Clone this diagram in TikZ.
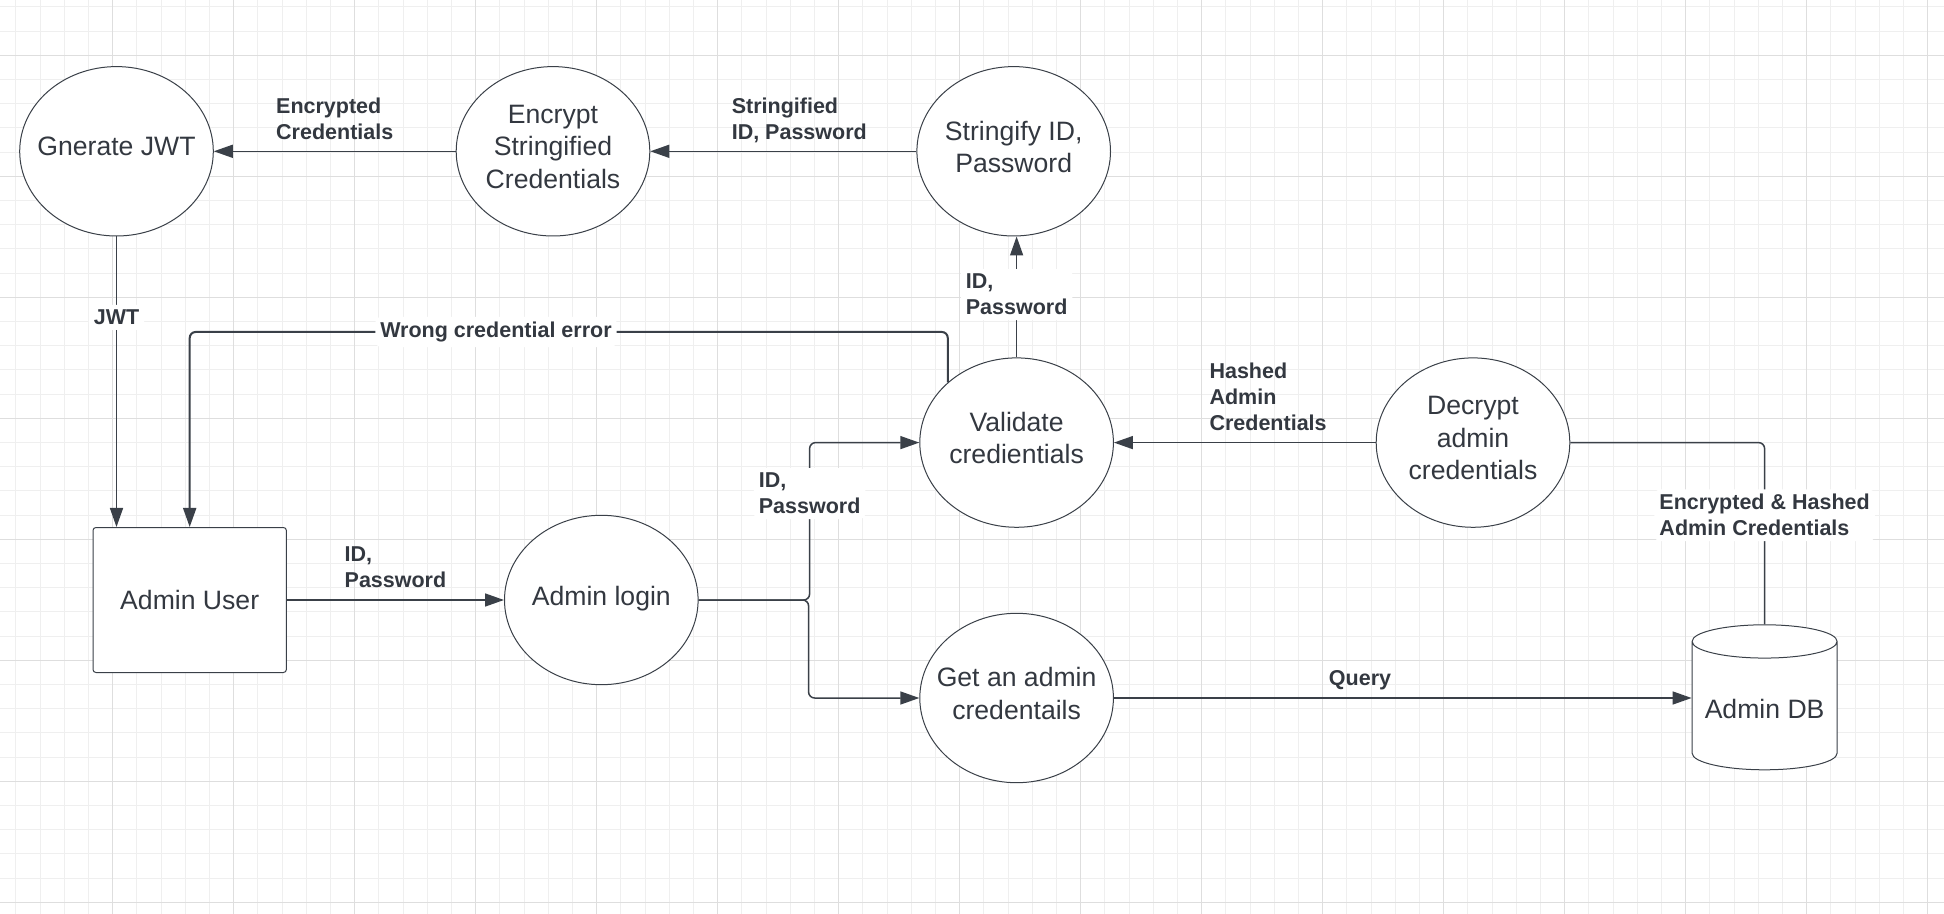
\documentclass[tikz,border=0pt]{standalone}
\usepackage{fontspec}
\setmainfont{Liberation Sans}
\usetikzlibrary{shapes.geometric}
\usetikzlibrary{arrows.meta}
\definecolor{gridlight}{RGB}{239,239,239}
\definecolor{griddark}{RGB}{222,222,222}
\definecolor{lineink}{RGB}{58,64,72}
\definecolor{textink}{RGB}{51,56,64}

\tikzset{
  process/.style={ellipse, draw=lineink, line width=0.5pt, fill=white,
    minimum width=96.8pt, minimum height=84.7pt, inner sep=-8pt, text depth=4.6pt,
    align=center, text=textink, font=\fontsize{13.3}{16.2}\selectfont},
  entity/.style={rectangle, rounded corners=1.5pt, draw=lineink, line width=0.5pt,
    fill=white, minimum width=96.7pt, minimum height=72.5pt,
    text=textink, font=\fontsize{13.3}{16.2}\selectfont},
  store/.style={cylinder, shape border rotate=90, aspect=0.25, draw=lineink,
    line width=0.5pt, fill=white, minimum width=72.5pt, minimum height=72.5pt,
    text=textink, font=\fontsize{13.3}{16.2}\selectfont},
  flow/.style={draw=lineink, line width=0.75pt, rounded corners=3pt,
    -{Triangle[length=9.5pt,width=6.5pt]}},
  link/.style={draw=lineink, line width=0.75pt, rounded corners=3pt},
  lbl/.style={font=\fontsize{10.75}{13}\selectfont\bfseries, text=textink,
    align=left, inner sep=2.5pt},
  toplbl/.style={lbl, above=3.2pt, text depth=0pt},
  onlbl/.style={lbl, fill=white}
}

\begin{document}
\begin{tikzpicture}[x=0.5pt, y=-0.5pt]

\useasboundingbox (0,0) rectangle (1944,914);
\fill[white] (0,0) rectangle (1944,914);

% Background grid
\foreach \x in {15.9,40.1,...,1944} {
  \draw[gridlight, line width=0.5pt] (\x,0) -- (\x,914);
}
\foreach \y in {6.9,31.1,...,914} {
  \draw[gridlight, line width=0.5pt] (0,\y) -- (1944,\y);
}
\foreach \x in {112.7,233.7,...,1944} {
  \draw[griddark, line width=0.6pt] (\x,0) -- (\x,914);
}
\foreach \y in {55.3,176.3,...,914} {
  \draw[griddark, line width=0.6pt] (0,\y) -- (1944,\y);
}

% Processes
\node[process] (jwt) at (116.5,151.3) {Gnerate JWT};
\node[process] (encrypt) at (553,151.3) {Encrypt\\Stringified\\Credentials};
\node[process] (stringify) at (1013.7,151.3) {Stringify ID,\\Password};
\node[process] (validate) at (1016.6,442.6) {Validate\\credientials};
\node[process] (decrypt) at (1473,442.6) {Decrypt\\admin\\credentials};
\node[process] (login) at (601.3,600) {Admin login};
\node[process] (getcred) at (1016.6,698) {Get an admin\\credentails};

% External entity and data store
\node[entity] (user) at (189.7,600) {Admin User};
\node[store, anchor=north] (db) at (1764.6,624.3) {Admin DB};

% Data flows
\draw[flow] (user.east) -- node[toplbl] {ID,\\Password} (login.west);
\draw[flow] (login.east) -- ++(111,0) |- node[onlbl, pos=0.338] {ID,\\Password} (validate.west);
\draw[flow] (login.east) -- ++(110,0) |- (getcred.west);
\draw[flow] (getcred.east) -- node[toplbl, pos=0.426] {Query} (getcred.east -| db.west);
\draw[link] (decrypt.east) -| node[onlbl, pos=0.70] {Encrypted \& Hashed\\Admin Credentials} (db.north);
\draw[flow] (decrypt.west) -- node[toplbl, pos=0.411] {Hashed\\Admin\\Credentials} (validate.east);
\draw[flow] (validate.north) -- node[onlbl, pos=0.52] {ID,\\Password} (validate.north |- stringify.south);
\draw[flow] (stringify.west) -- node[toplbl, pos=0.44] {Stringified\\ID, Password} (encrypt.east);
\draw[flow] (encrypt.west) -- node[toplbl] {Encrypted\\Credentials} (jwt.east);
\draw[flow] (jwt.south) -- node[onlbl, pos=0.278] {JWT} (jwt.south |- user.north);
\draw[flow, line width=1pt] (validate.north west) -- ++(0,-50.4) -| node[onlbl, pos=0.298] {Wrong credential error} (user.north);

\end{tikzpicture}
\end{document}
